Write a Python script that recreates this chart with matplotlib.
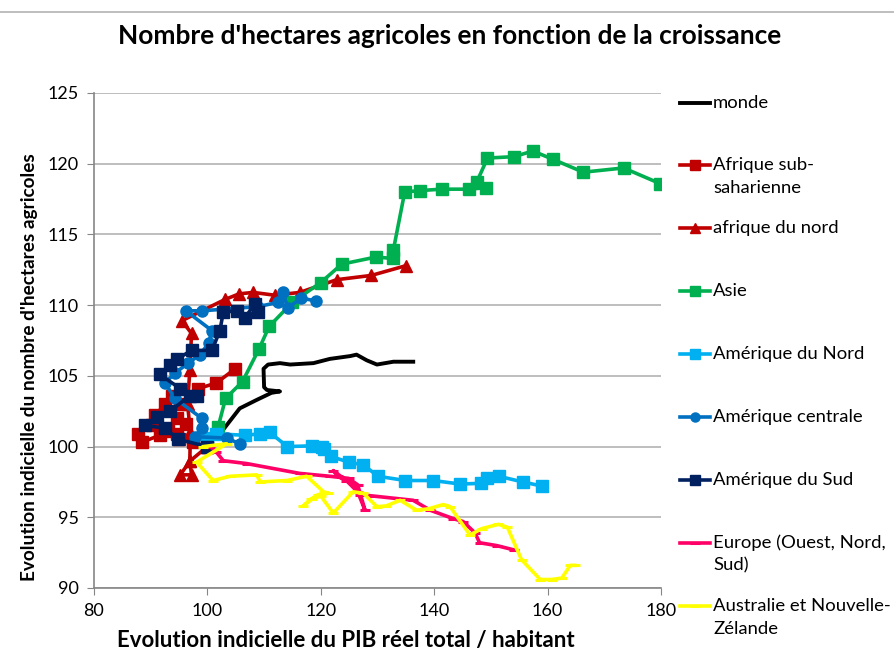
import matplotlib.pyplot as plt
from matplotlib.lines import Line2D

# x = PIB réel / habitant (indice), y = hectares agricoles (indice)
monde_x = [102.6, 105.7, 108.7, 111.3, 112.8, 110.5, 110.0, 109.9, 110.7, 112.8, 114.6,
           118.7, 121.6, 125.2, 126.3, 128.1, 129.9, 132.8, 136.3]
monde_y = [101.1, 102.7, 103.3, 103.8, 103.9, 104.0, 104.2, 105.5, 105.8, 105.9, 105.8,
           105.9, 106.2, 106.4, 106.5, 106.1, 105.8, 106.0, 106.0]

afss_x = [100.0, 97.5, 95.0, 94.6, 96.3, 94.6, 93.1, 91.6, 88.4, 87.8, 90.2, 90.8,
          92.5, 93.7, 95.2, 98.4, 101.6, 104.9]
afss_y = [100.0, 100.3, 100.5, 100.9, 101.6, 102.0, 101.1, 100.8, 100.3, 100.9, 101.5, 102.2,
          103.0, 103.6, 103.0, 104.1, 104.5, 105.5]

afn_x = [100.0, 97.0, 95.2, 97.2, 96.9, 97.0, 96.5, 96.9, 97.2, 95.5, 103.1, 105.6,
         108.1, 111.9, 116.3, 122.8, 128.9, 135.1]
afn_y = [100.0, 99.0, 98.0, 98.0, 99.0, 101.0, 103.0, 105.4, 108.0, 108.9, 110.4, 110.8,
         110.9, 110.7, 110.9, 111.8, 112.1, 112.8]

asie_x = [101.9, 103.2, 106.2, 109.1, 110.9, 115.0, 120.0, 123.7, 129.7, 132.8, 132.8,
          134.8, 137.5, 141.3, 146.1, 149.1, 147.5, 149.4, 154.1, 157.4, 161.0, 166.3,
          173.4, 179.8]
asie_y = [101.4, 103.4, 104.6, 106.9, 108.5, 110.2, 111.6, 112.9, 113.4, 113.3, 113.9,
          118.0, 118.1, 118.2, 118.2, 118.3, 118.7, 120.4, 120.5, 120.9, 120.3, 119.4,
          119.7, 118.6]

amn_x = [100.0, 101.5, 106.6, 109.3, 111.0, 114.1, 118.4, 120.2, 120.5, 121.8, 124.9,
         127.5, 130.1, 134.9, 139.8, 144.6, 148.2, 149.3, 151.4, 155.6, 159.1]
amn_y = [100.6, 100.9, 100.8, 100.9, 101.0, 100.0, 100.05, 100.0, 99.8, 99.3, 98.9,
         98.7, 97.9, 97.6, 97.6, 97.35, 97.4, 97.8, 97.9, 97.5, 97.2]

amc_x = [105.7, 103.4, 97.8, 99.0, 99.0, 94.3, 92.5, 94.3, 96.6, 98.7, 100.2, 100.8,
         96.2, 99.1, 109.0, 112.5, 113.3, 114.2, 116.5, 119.1]
amc_y = [100.2, 100.6, 100.7, 101.3, 102.0, 103.4, 104.5, 105.2, 105.9, 106.5, 107.3, 108.2,
         109.6, 109.6, 109.9, 110.2, 110.9, 109.8, 110.5, 110.3]

ams_x = [100.0, 94.9, 92.5, 89.0, 91.1, 93.4, 96.9, 98.1, 95.2, 91.6, 93.4, 94.7, 97.2,
         100.8, 102.2, 102.8, 105.2, 106.6, 108.4, 109.0]
ams_y = [100.0, 100.5, 101.3, 101.5, 102.1, 102.5, 103.6, 103.6, 104.1, 105.1, 105.8, 106.2,
         106.8, 106.8, 108.2, 109.5, 109.6, 109.1, 110.1, 109.5]

eur_x = [100.5, 101.6, 102.8, 106.9, 116.3, 121.6, 124.9, 126.5, 127.8, 126.5, 124.5,
         122.2, 123.0, 126.0, 127.0, 129.3, 134.0, 136.3, 139.3, 143.4, 145.1, 147.2,
         148.0, 151.0, 154.0]
eur_y = [100.0, 99.6, 99.0, 98.8, 98.1, 97.9, 97.75, 97.3, 95.5, 96.8, 97.6,
         98.3, 97.9, 97.3, 96.6, 96.5, 96.3, 96.2, 95.5, 94.9, 94.7, 93.9,
         93.2, 93.0, 92.7]

aus_x = [99.3, 103.4, 98.1, 101.0, 104.0, 108.7, 109.3, 114.0, 117.5, 120.5, 121.3,
         119.5, 118.3, 116.9, 118.5, 120.0, 122.2, 125.7, 127.5, 129.9, 131.5, 134.0,
         136.9, 139.0, 141.6, 142.8, 146.3, 148.4, 151.3, 152.9, 155.4, 158.7, 160.7,
         162.5, 164.0, 164.8]
aus_y = [100.0, 100.2, 98.9, 97.6, 97.9, 98.0, 97.5, 97.6, 97.9, 96.8, 96.7,
         96.6, 96.3, 95.8, 96.3, 96.5, 95.3, 96.8, 96.7, 95.75, 95.8, 96.2,
         95.5, 95.6, 95.9, 95.75, 93.75, 94.2, 94.5, 94.3, 92.0, 90.6, 90.6,
         90.7, 91.6, 91.6]

series = [
    ("monde", monde_x, monde_y, "black", None),
    ("Afrique sub-\nsaharienne", afss_x, afss_y, "#C00000", "s"),
    ("afrique du nord", afn_x, afn_y, "#C00000", "^"),
    ("Asie", asie_x, asie_y, "#00B050", "s"),
    ("Amérique du Nord", amn_x, amn_y, "#00B0F0", "s"),
    ("Amérique centrale", amc_x, amc_y, "#0070C0", "o"),
    ("Amérique du Sud", ams_x, ams_y, "#002060", "s"),
    ("Europe (Ouest, Nord,\nSud)", eur_x, eur_y, "#FF0066", "_"),
    ("Australie et Nouvelle-\nZélande", aus_x, aus_y, "#FFFF00", "_"),
]

plt.rcParams['font.family'] = ['Lato', 'DejaVu Sans']

W, H = 894, 651
fig = plt.figure(figsize=(W / 100, H / 100), dpi=100)
ax = fig.add_axes([94 / W, 1 - 588 / H, (661 - 94) / W, (588 - 93) / H])


def style(marker):
    if marker == "_":
        return dict(lw=2.6, marker="_", ms=7, mew=2.2)
    if marker is None:
        return dict(lw=2.8)
    return dict(lw=2.6, marker=marker, ms=8)


for label, xs, ys, color, marker in series:
    ax.plot(xs, ys, color=color, label=label, **style(marker))

ax.set_xlim(80, 180)
ax.set_ylim(90, 125)
ax.set_xticks(range(80, 181, 20))
ax.set_yticks(range(90, 126, 5))
ax.tick_params(labelsize=13, color="#868686", length=5, pad=6)
ax.yaxis.grid(True, color="#B3B3B3", lw=1.2)
ax.set_axisbelow(True)
for s in ["top", "right"]:
    ax.spines[s].set_visible(False)
for s in ["left", "bottom"]:
    ax.spines[s].set_color("#868686")
    ax.spines[s].set_linewidth(1.2)

renderer = fig.canvas.get_renderer()


def fit(txt, target_px, horizontal=True):
    # scale font so the text spans target_px pixels
    bb = txt.get_window_extent(renderer)
    size = bb.width if horizontal else bb.height
    txt.set_fontsize(txt.get_fontsize() * target_px / size)


title = fig.text(450 / W, 1 - 36 / H, "Nombre d'hectares agricoles en fonction de la croissance",
                 ha="center", va="center", fontsize=18, fontweight="bold")
fit(title, 664)
xlab = fig.text(346 / W, 1 - 640 / H, "Evolution indicielle du PIB réel total / habitant",
                ha="center", va="center", fontsize=12, fontweight="bold")
fit(xlab, 456)
ylab = fig.text(30 / W, 1 - 367 / H, "Evolution indicielle du nombre d'hectares agricoles",
                ha="center", va="center", rotation=90, fontsize=12, fontweight="bold")
fit(ylab, 425, horizontal=False)

# legend drawn by hand: first lines evenly spaced like the Excel original
probe = fig.text(0, 0, "Amérique du Nord", fontsize=13)
fit(probe, 150)
leg_size = probe.get_fontsize()
probe.remove()

for i, (label, xs, ys, color, marker) in enumerate(series):
    yc = 102.5 + 62.9 * i
    st = style(marker)
    st.pop("ms", None)
    lw = st.pop("lw")
    fig.add_artist(Line2D([680 / W, 710 / W], [1 - yc / H] * 2, color=color, lw=lw))
    if marker is not None:
        ms = 7 if marker == "_" else 6.5
        fig.add_artist(Line2D([695 / W], [1 - yc / H], color=color, ms=ms, **st))
    for k, line in enumerate(label.split("\n")):
        fig.text(713 / W, 1 - (yc + 23 * k) / H, line, ha="left", va="center",
                 fontsize=leg_size)

fig.add_artist(Line2D([0, 1], [1 - 12 / H] * 2, color="#B3B3B3", lw=1.2))

fig.savefig("out.png", dpi=100)
